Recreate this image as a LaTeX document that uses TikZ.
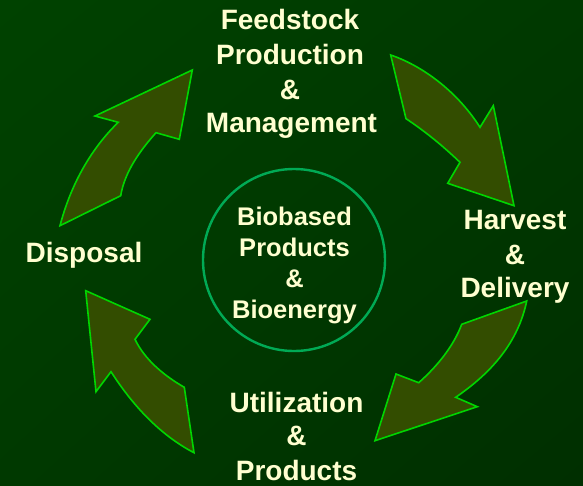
\documentclass[tikz,border=0pt]{standalone}
\usepackage{fontspec}
\setmainfont{Liberation Sans}
\usetikzlibrary{shadings}
\definecolor{bgA}{RGB}{0,66,0}
\definecolor{bgB}{RGB}{0,47,0}
\definecolor{bgM}{RGB}{0,57,0}
\definecolor{arrfill}{RGB}{51,77,0}
\definecolor{arrline}{RGB}{0,214,0}
\definecolor{ringcol}{RGB}{0,170,85}
\definecolor{txt}{RGB}{255,255,208}
\tikzset{
  bigarrow/.style={fill=arrfill, draw=arrline, line width=1.6pt, line join=miter},
  lbl/.style={anchor=base, inner sep=0pt, text=txt, font=\fontsize{28}{34}\selectfont\bfseries},
  clbl/.style={anchor=base, inner sep=0pt, text=txt, font=\fontsize{25.5}{31}\selectfont\bfseries},
}
\begin{document}
\begin{tikzpicture}[x=1pt,y=-1pt]
\useasboundingbox (0,0) rectangle (583,485);
\shade[upper left=bgA, upper right=bgM, lower left=bgM, lower right=bgB] (0,0) rectangle (583,485);

% arrow 1 (top right)
\draw[bigarrow] (390.7,55) .. controls (426.7,67.4) and (459.7,95.2) .. (480,127.3)
  -- (493.3,105.7) -- (514,205.7) -- (447.7,183.3) -- (460,162.3)
  .. controls (443.4,146.4) and (425.3,131.4) .. (406,118.7) -- cycle;
% arrow 2 (bottom right)
\draw[bigarrow] (526.7,301) .. controls (518,343) and (491,373) .. (455.7,397.3)
  -- (477.3,406.7) -- (375,440.7) -- (396,374) -- (418.7,382.7)
  .. controls (436.6,366.8) and (453.3,346.8) .. (461.7,324.3) -- cycle;
% arrow 3 (top left)
\draw[bigarrow] (192.3,70) -- (95,116) -- (118.3,122.3)
  .. controls (89.5,150.1) and (70.1,187) .. (60,225.7)
  -- (120.7,195.7) .. controls (124.6,172) and (140,150.6) .. (156,132.7)
  -- (179.3,139.3) -- cycle;
% arrow 4 (bottom left)
\draw[bigarrow] (85.7,290.7) -- (150,319.3) -- (135,339.3)
  .. controls (144.9,360) and (164.4,375.8) .. (184.3,387.3)
  -- (194,452.7) .. controls (159.4,434.7) and (132.1,404.5) .. (111,371.7)
  -- (96,391.7) -- cycle;

% centre ring
\node[circle, draw=ringcol, line width=2.4pt, minimum size=182pt, inner sep=0pt] (ring) at (294,260) {};
\node[clbl] (c1) at (294.5,225) {Biobased};
\node[clbl] (c2) at (294.5,256) {Products};
\node[clbl] (c3) at (294.5,287.5) {\&};
\node[clbl] (c4) at (294.5,318.5) {Bioenergy};

% labels
\node[lbl] (f1) at (290,29.5) {Feedstock};
\node[lbl] (f2) at (290,64.5) {Production};
\node[lbl] (f3) at (290,99.5) {\&};
\node[lbl] (f4) at (291.5,132) {Management};

\node[lbl] (h1) at (515,229.5) {Harvest};
\node[lbl] (h2) at (515,264) {\&};
\node[lbl] (h3) at (515,297) {Delivery};

\node[lbl] (d1) at (84,262.5) {Disposal};

\node[lbl] (u1) at (296.5,412) {Utilization};
\node[lbl] (u2) at (296.5,445.5) {\&};
\node[lbl] (u3) at (296.5,480) {Products};
\end{tikzpicture}
\end{document}
